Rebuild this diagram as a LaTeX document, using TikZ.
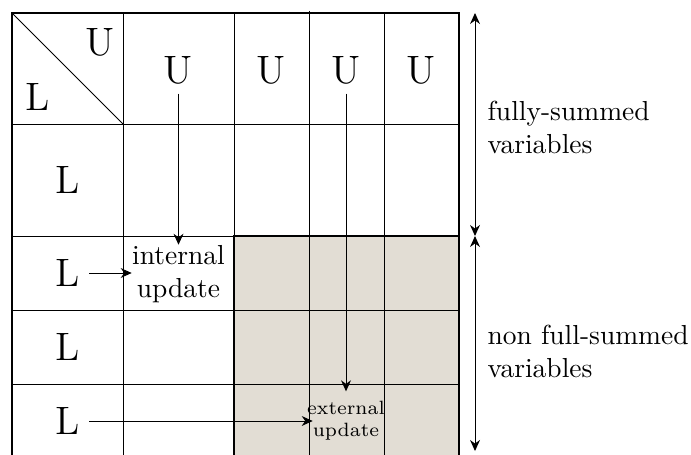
\documentclass[tikz,border=0pt]{standalone}
\usetikzlibrary{arrows.meta}
\definecolor{shadefill}{RGB}{226,221,212}
\begin{document}
\begin{tikzpicture}[x=0.36364pt,y=-0.36364pt,
  >={Stealth[length=4pt,width=3.6pt,inset=1.3pt]},
  big/.style={font=\Large, inner sep=2pt, outer sep=1.5pt},
  upd/.style={align=center, inner sep=0pt, font=\normalsize},
  side/.style={align=left, anchor=west, inner sep=0pt, font=\normalsize},
  gridline/.style={line width=0.35pt},
  border/.style={line width=0.5pt},
  shadeborder/.style={line width=0.95pt},
  conn/.style={->, line width=0.35pt}
]
\useasboundingbox (0,0) rectangle (691,455);
% shaded block
\fill[shadefill] (234,236) rectangle (459,455);
% grid lines
\draw[gridline] (123,13) -- (123,455);
\draw[gridline] (234,13) -- (234,455);
\draw[gridline] (309,11) -- (309,455);
\draw[gridline] (384,13) -- (384,455);
\draw[gridline] (12,124) -- (459,124);
\draw[gridline] (12,236) -- (459,236);
\draw[gridline] (12,310) -- (459,310);
\draw[gridline] (12,384) -- (459,384);
\draw[gridline] (12,13) -- (123,124);
% outer border
\draw[border] (12,455) -- (12,13) -- (459,13) -- (459,455);
% shaded border
\draw[shadeborder] (234,455) -- (234,236) -- (459,236) -- (459,455);
% labels
\node[big] (cu) at (100,42) {U};
\node[big] (cl) at (38,97) {L};
\node[big] (u2) at (178.5,70) {U};
\node[big] (u3) at (271.5,70) {U};
\node[big] (u4) at (346,70) {U};
\node[big] (u5) at (421,70) {U};
\node[big] (l2) at (67.5,180) {L};
\node[big] (l3) at (67.5,273) {L};
\node[big] (l4) at (67.5,347) {L};
\node[big] (l5) at (67.5,421) {L};
\node[upd] (int) at (178.5,274) {internal\\update};
\node[upd, font=\scriptsize] (ext) at (346,420.5) {external\\update};
% connectors
\draw[conn] (u2.south) -- (int.north);
\draw[conn] (l3.east) -- (int.west |- l3.east);
\draw[conn] (u4.south) -- ([yshift=3.3pt]ext.north);
\draw[conn] (l5.east) -- ([xshift=2.2pt]ext.west |- l5.east);
% side arrows
\coordinate (rt) at (475,13);
\coordinate (rm) at (475,236);
\coordinate (rb) at (475,451);
\draw[<->, line width=0.35pt] (rt) -- (rm);
\draw[<->, line width=0.35pt] (rm) -- (rb);
\node[side] (fs) at (487,127) {fully-summed\\variables};
\node[side] (nfs) at (487,351) {non full-summed\\variables};
\end{tikzpicture}
\end{document}
